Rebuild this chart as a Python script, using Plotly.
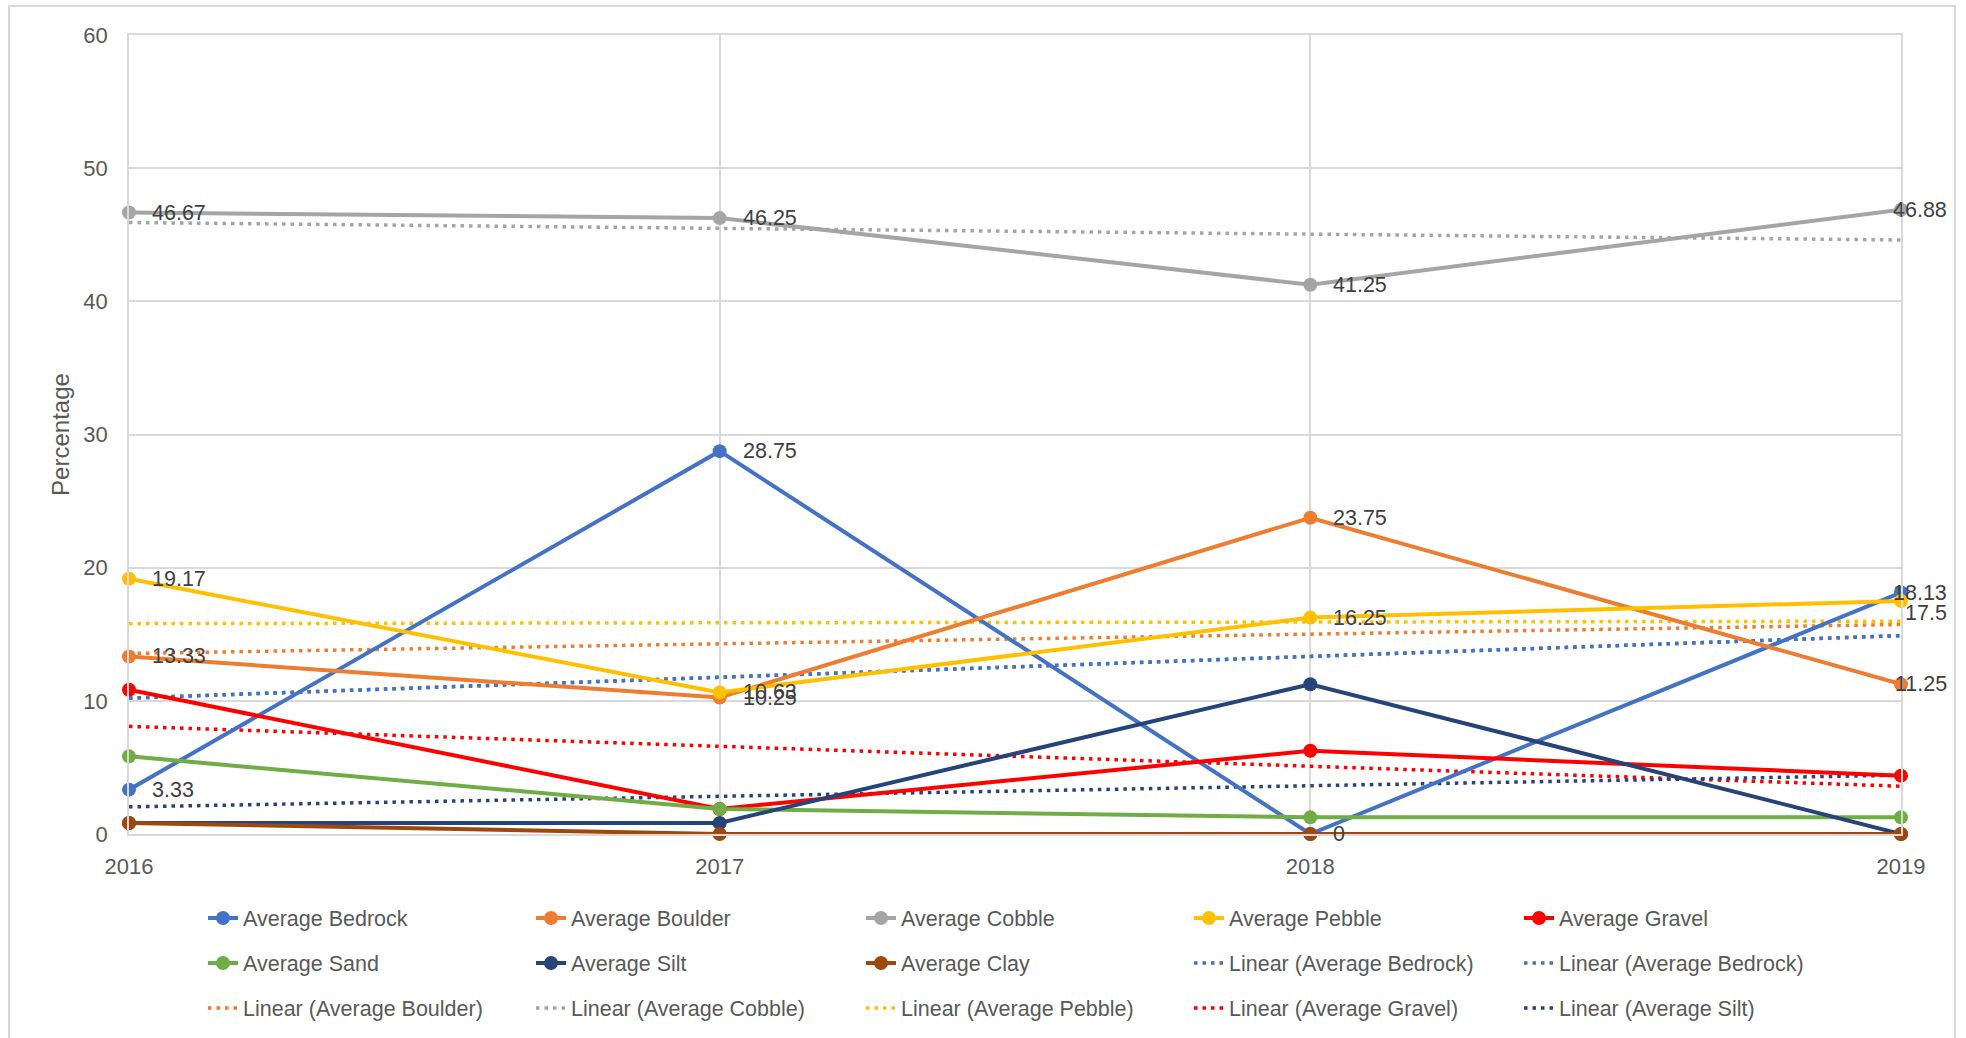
import numpy as np
import plotly.graph_objects as go

# ---- data -------------------------------------------------------------
years = [2016, 2017, 2018, 2019]
year_labels = ["2016", "2017", "2018", "2019"]

bedrock = [3.33, 28.75, 0, 18.13]
boulder = [13.33, 10.25, 23.75, 11.25]
cobble = [46.67, 46.25, 41.25, 46.88]
pebble = [19.17, 10.63, 16.25, 17.5]
gravel = [10.83, 1.88, 6.25, 4.38]
sand = [5.83, 1.88, 1.25, 1.25]
silt = [0.83, 0.83, 11.25, 0]
clay = [0.83, 0, 0, 0]

y_ticks = [0, 10, 20, 30, 40, 50, 60]

# ---- styling ----------------------------------------------------------
FONT = "Liberation Sans, Arial, sans-serif"
AXIS_TXT = "#595959"
LABEL_TXT = "#404040"
GRID = "#d9d9d9"

series = [
    ("Average Bedrock", bedrock, "#4472C4"),
    ("Average Boulder", boulder, "#ED7D31"),
    ("Average Cobble", cobble, "#A5A5A5"),
    ("Average Pebble", pebble, "#FFC000"),
    ("Average Gravel", gravel, "#FF0000"),
    ("Average Sand", sand, "#70AD47"),
    ("Average Silt", silt, "#264478"),
    ("Average Clay", clay, "#9E480E"),
]
colors = {name: c for name, _, c in series}
values = {name: v for name, v, _ in series}

# Linear trendlines (least squares), in legend order
trend_of = ["Average Bedrock", "Average Bedrock", "Average Boulder",
            "Average Cobble", "Average Pebble", "Average Gravel", "Average Silt"]

# series carrying value labels
labelled = ["Average Bedrock", "Average Boulder", "Average Cobble", "Average Pebble"]

# figure geometry: the paper spans the full height below the top margin;
# the y axis domain leaves room underneath for the legend block
W, H = 1966, 1038
L, R, T, B = 129, 65, 35, 0
PLOT_BOTTOM = 834                      # pixel row of the x axis
PAPER_W, PAPER_H = W - L - R, H - T - B


def px_x(p):
    return (p - L) / PAPER_W


def px_y(p):
    return (H - B - p) / PAPER_H


fig = go.Figure()

# legend slots: 5 columns x 3 rows, filled row by row
legend_cols = [245, 573, 903, 1231, 1561]
legend_rows = [918, 963, 1008]
legend_ids = []
for k in range(len(series) + len(trend_of)):
    lid = "legend" if k == 0 else f"legend{k + 1}"
    legend_ids.append(lid)
    col, row = k % 5, k // 5
    fig.update_layout({
        lid: dict(
            x=px_x(legend_cols[col] - 42), y=px_y(legend_rows[row]),
            xanchor="left", yanchor="middle",
            bgcolor="rgba(0,0,0,0)", borderwidth=0,
            font=dict(family=FONT, size=21.5, color=AXIS_TXT),
        )
    })

# trendlines first so the series sit above them
x_arr = np.array(years, dtype=float)
for j, name in enumerate(trend_of):
    slope, icpt = np.polyfit(x_arr, np.array(values[name], dtype=float), 1)
    fig.add_trace(go.Scatter(
        x=years, y=slope * x_arr + icpt, mode="lines",
        name=f"Linear ({name})",
        line=dict(color=colors[name], width=3.5, dash="3.5px,5px"),
        legend=legend_ids[len(series) + j], cliponaxis=False,
        hoverinfo="skip",
    ))

for i, (name, vals, col) in enumerate(series):
    fig.add_trace(go.Scatter(
        x=years, y=vals, mode="lines+markers", name=name,
        line=dict(color=col, width=4),
        marker=dict(color=col, size=14),
        legend=legend_ids[i], cliponaxis=False,
    ))

# value labels to the right of points; last year's labels pulled inside
for name in labelled:
    for i, (yr, v) in enumerate(zip(years, values[name])):
        last = i == len(years) - 1
        yshift = -12 if (last and name == "Average Pebble") else 0
        fig.add_annotation(
            x=yr, y=v, text=f"{v:g}", showarrow=False,
            xanchor="right" if last else "left",
            xshift=48 if last else 21, yshift=yshift,
            font=dict(family=FONT, size=21.5, color=LABEL_TXT),
        )

# chart frame
fig.add_shape(
    type="rect", xref="paper", yref="paper",
    x0=px_x(9), x1=px_x(1955), y0=px_y(1060), y1=px_y(6),
    line=dict(color=GRID, width=2), fillcolor="rgba(0,0,0,0)", layer="below",
)

fig.update_layout(
    width=W, height=H, autosize=False,
    margin=dict(l=L, r=R, t=T, b=B, autoexpand=False),
    paper_bgcolor="white", plot_bgcolor="white",
    font=dict(family=FONT, size=21, color=AXIS_TXT),
    showlegend=True,
    xaxis=dict(
        range=[years[0], years[-1]], tickvals=years, ticktext=year_labels,
        showgrid=True, gridcolor=GRID, gridwidth=1.5,
        showline=True, linecolor=GRID, linewidth=1.5, mirror=True,
        zeroline=False, ticks="", ticklabelstandoff=12, automargin=False,
        tickfont=dict(family=FONT, size=22, color=AXIS_TXT),
    ),
    yaxis=dict(
        domain=[px_y(PLOT_BOTTOM), 1], range=[0, 60], tickvals=y_ticks,
        showgrid=True, gridcolor=GRID, gridwidth=1.5,
        showline=True, linecolor=GRID, linewidth=1.5, mirror=True,
        zeroline=False, ticks="", ticklabelstandoff=15, automargin=False,
        tickfont=dict(family=FONT, size=22, color=AXIS_TXT),
        title=dict(text="Percentage", standoff=7,
                   font=dict(family=FONT, size=24, color=AXIS_TXT)),
    ),
)

fig.write_html("out.html", config={"displayModeBar": False})
